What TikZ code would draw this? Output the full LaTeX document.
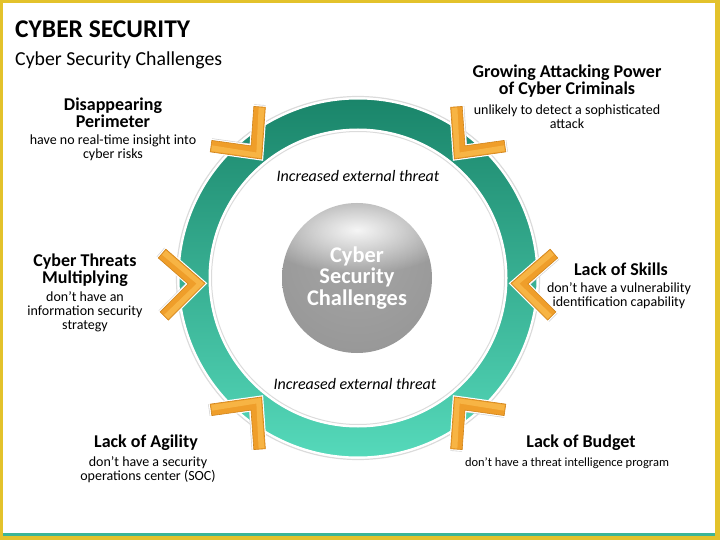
\documentclass[tikz,border=0pt]{standalone}
\usepackage{fontspec}
\setmainfont{Carlito}
\usetikzlibrary{fadings}
\definecolor{frameY}{HTML}{E3C22B}
\definecolor{lineT}{HTML}{3BB597}
\definecolor{ringtop}{HTML}{1A856A}
\definecolor{ringmid}{HTML}{2BA586}
\definecolor{ringbot}{HTML}{55D9BA}
\definecolor{chevfill}{HTML}{EF9E2A}
\definecolor{chevlight}{HTML}{F7B444}
\definecolor{chevedge}{HTML}{D0841A}
\definecolor{sA}{HTML}{A6A6A6}
\definecolor{sB}{HTML}{989898}
\definecolor{sC}{HTML}{8C8C8C}
\definecolor{sD}{HTML}{747474}
\pgfdeclareradialshading{sphereshade}{\pgfpoint{0bp}{10bp}}{color(0bp)=(sA); color(30bp)=(sB); color(50bp)=(sC); color(62bp)=(sD)}
\tikzfading[name=softglow, inner color=transparent!0, outer color=transparent!100]
\begin{document}
\begin{tikzpicture}[x=1pt,y=1pt,
  ttl/.style={align=center, inner sep=0, font=\fontsize{18}{17}\selectfont\bfseries},
  dsc/.style={align=center, inner sep=0, font=\fontsize{14}{14}\selectfont},
  threat/.style={inner sep=0, font=\fontsize{16}{18}\selectfont\itshape},
  chevshape/.style={fill=chevfill, draw=chevedge, line width=0.6}]
\useasboundingbox (0,0) rectangle (720,-540);
% frame
\fill[frameY] (0,0) rectangle (720,-540);
\fill[white] (3,-3) rectangle (715,-534);
\fill[lineT] (3,-533) rectangle (715,-536);
% titles
\node[anchor=west, inner sep=0, font=\fontsize{25.5}{28}\selectfont\bfseries] (title) at (15,-29.5) {CYBER SECURITY};
\node[anchor=west, inner sep=0, font=\fontsize{19.8}{22}\selectfont] (subtitle) at (15,-60) {Cyber Security Challenges};
% ring
\coordinate (C) at (358,-278);
\draw[black!14, line width=1.2] (C) circle (181.5);
\shade[top color=ringtop, middle color=ringmid, bottom color=ringbot] (C) circle (179);
\draw[white, line width=2] (C) circle (179.5);
\fill[white] (C) circle (149);
\draw[black!14, line width=1] (C) circle (146.5);
\draw[white, line width=2] (C) circle (148.5);
% chevrons
\foreach \a in {129,51,182,-2,231,309}{
  \begin{scope}[shift={(C)}, rotate=\a, xshift=153]
    \fill[black!18] (1.5,-1.5) -- (39.5,34) -- (47.4,25.5) -- (18.5,-1.5) -- (47.4,-28.5) -- (39.5,-37) -- cycle;
    \draw[white, line width=3, line join=miter] (0,0) -- (38,35.5) -- (45.9,27) -- (17,0) -- (45.9,-27) -- (38,-35.5) -- cycle;
    \path[chevshape] (0,0) -- (38,35.5) -- (45.9,27) -- (17,0) -- (45.9,-27) -- (38,-35.5) -- cycle;
    \fill[chevlight] (1.4,0) -- (38,34.2) -- (42,30) -- (8.5,0) -- (42,-30) -- (38,-34.2) -- cycle;
  \end{scope}
}
% inner labels
\node[threat] (th1) at (358,-176) {Increased external threat};
\node[threat] (th2) at (355,-384) {Increased external threat};
% sphere
\shade[shading=sphereshade] (357,-278) circle (75);
\fill[white, opacity=0.9, path fading=softglow] (357,-230) ellipse (100 and 44);
\node[align=center, inner sep=0, text=white, font=\fontsize{22.4}{21.5}\selectfont\bfseries] (center) at (357,-278) {Cyber\\Security\\Challenges};
% labels
\node[ttl] (t1) at (113,-112.5) {Disappearing\\Perimeter};
\node[dsc] (d1) at (113,-148) {have no real-time insight into\\cyber risks};
\node[ttl] (t2) at (567,-81.5) {Growing Attacking Power\\of Cyber Criminals};
\node[dsc] (d2) at (567,-117) {unlikely to detect a sophisticated\\attack};
\node[ttl] (t3) at (85,-270.5) {Cyber Threats\\Multiplying};
\node[dsc] (d3) at (85,-312) {don't have an\\information security\\strategy};
\node[ttl] (t4) at (621,-269) {Lack of Skills};
\node[dsc] (d4) at (619,-296) {don't have a vulnerability\\identification capability};
\node[ttl] (t5) at (146,-443) {Lack of Agility};
\node[dsc] (d5) at (148,-470) {don't have a security\\operations center (SOC)};
\node[ttl] (t6) at (581,-443) {Lack of Budget};
\node[dsc, font=\fontsize{12.5}{14}\selectfont] (d6) at (567,-463) {don't have a threat intelligence program};
\end{tikzpicture}
\end{document}
